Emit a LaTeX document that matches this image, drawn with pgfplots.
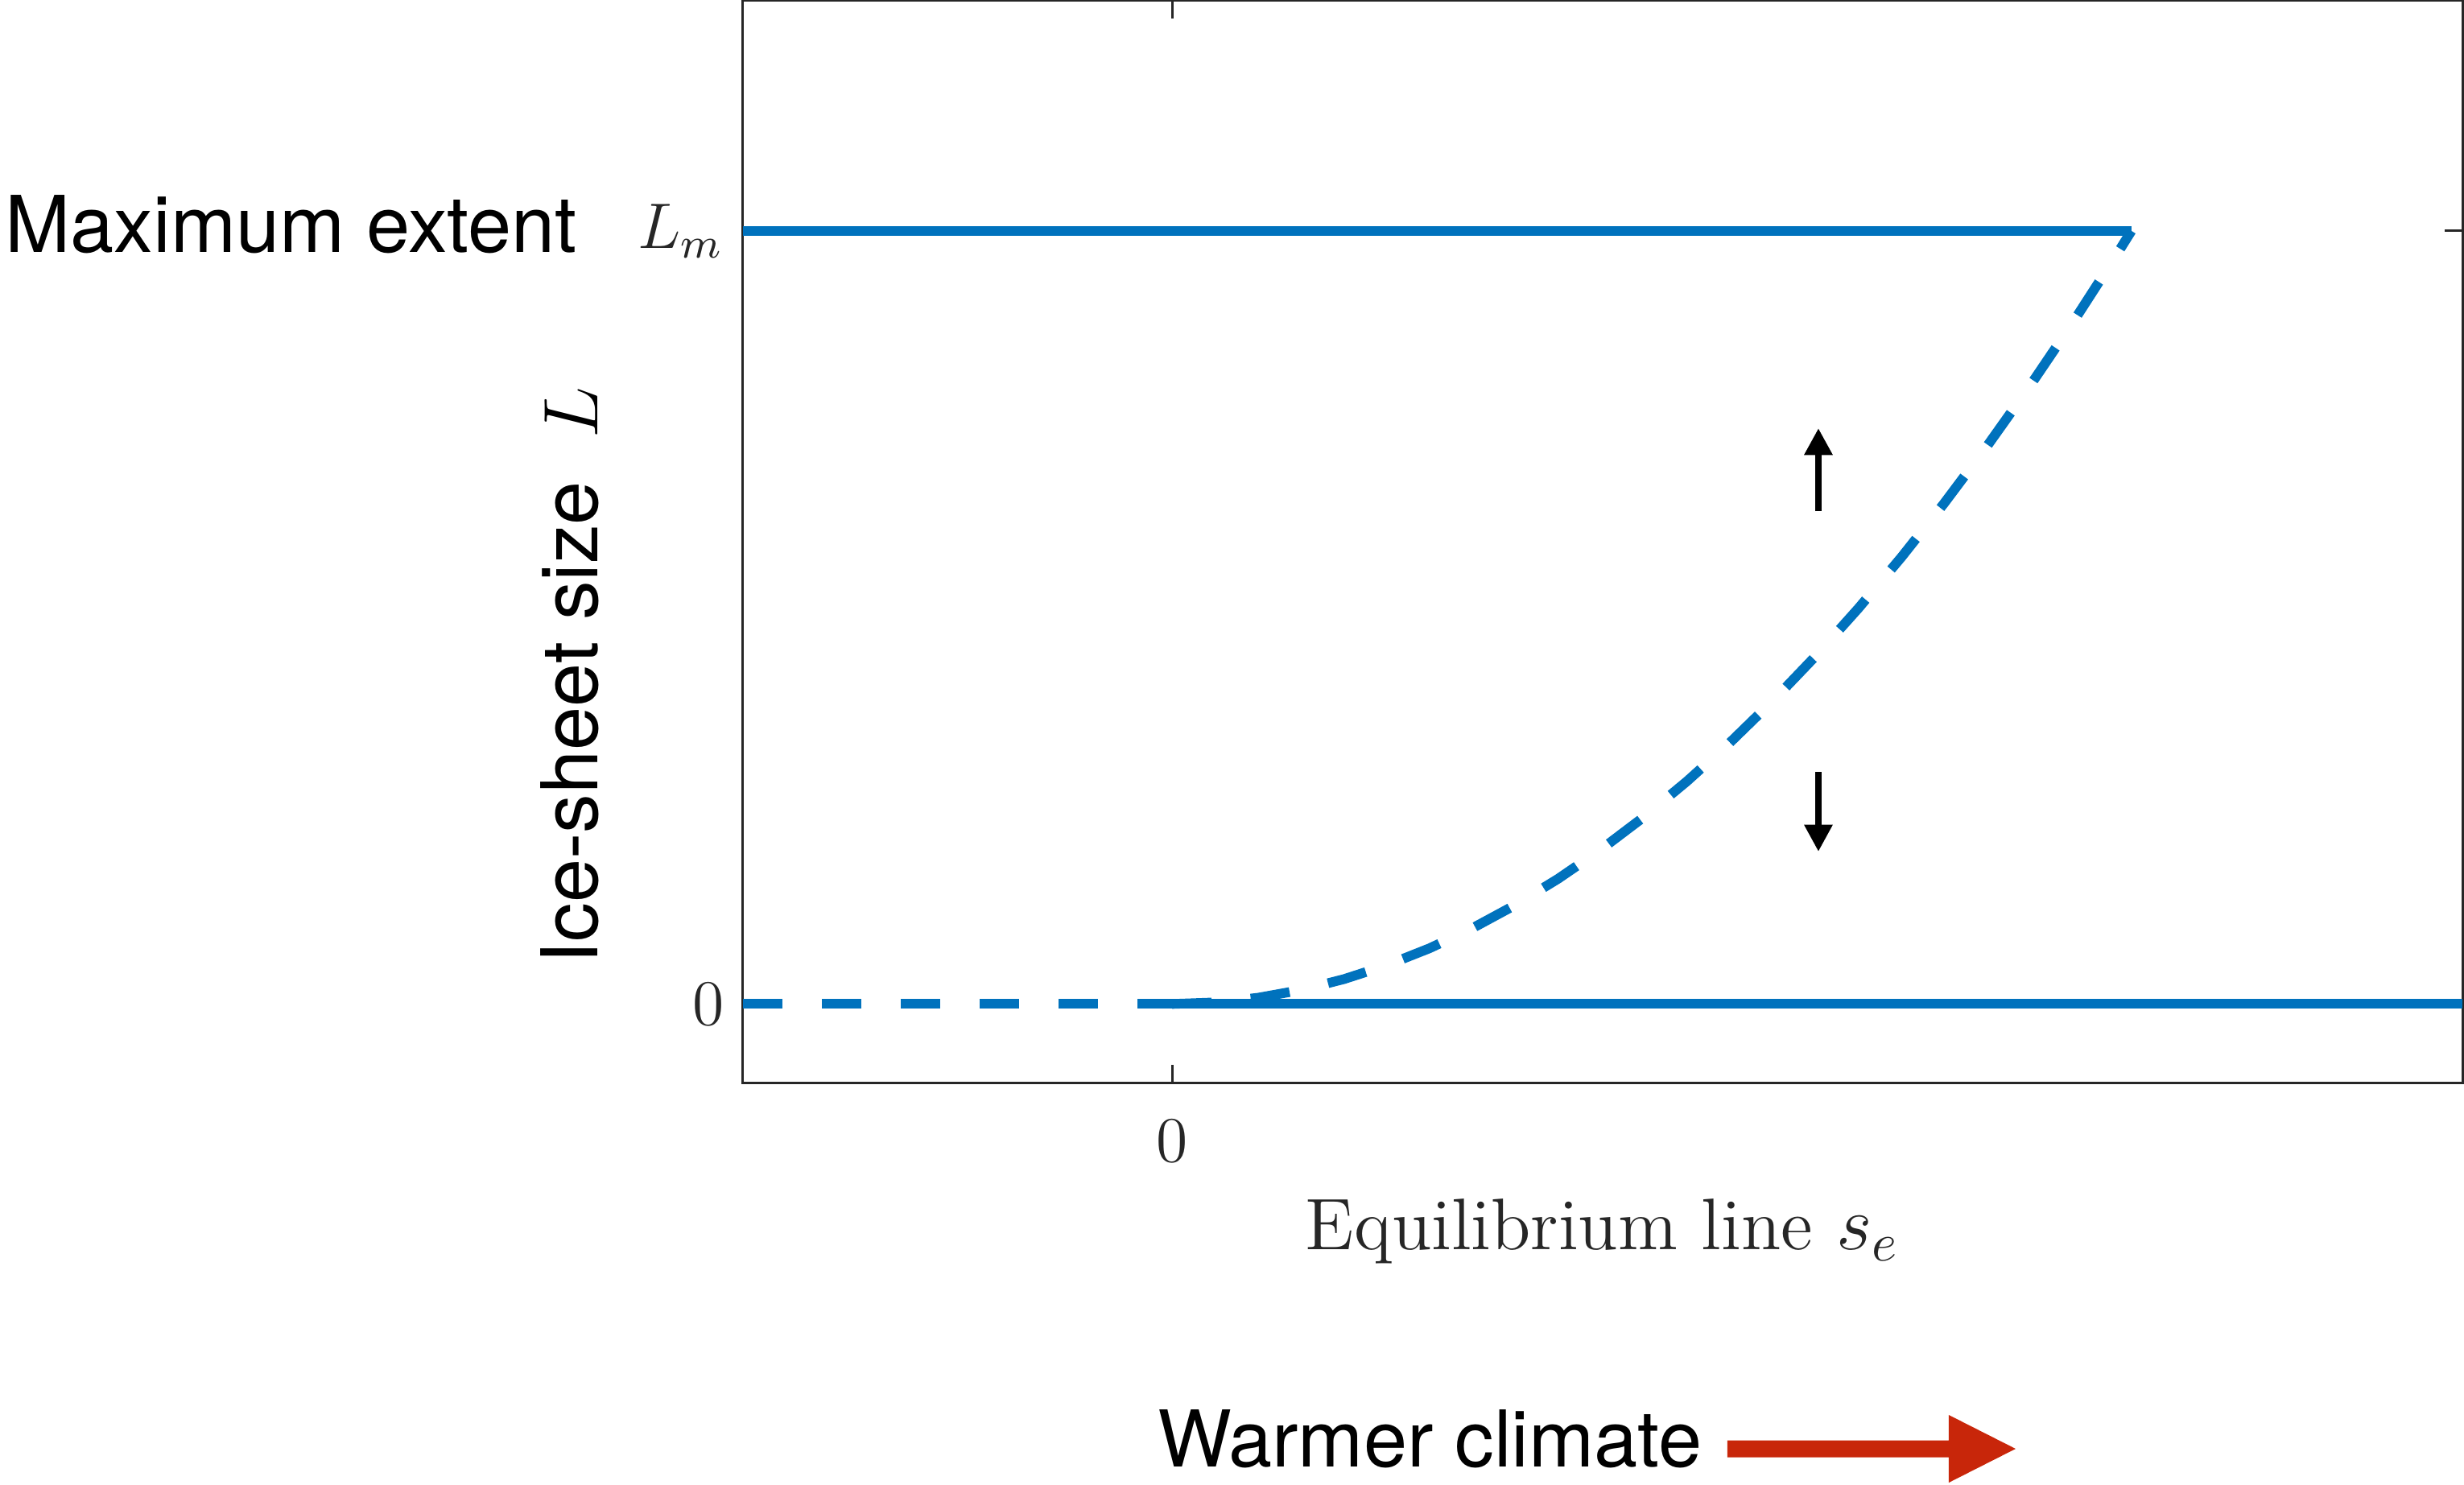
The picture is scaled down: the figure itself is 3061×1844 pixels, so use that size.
\documentclass[border=0pt]{standalone}
\usepackage{fontspec}
\setsansfont{TeX Gyre Heros}
\usepackage{pgfplots}
\pgfplotsset{compat=1.18}
\usetikzlibrary{arrows.meta}
\definecolor{mblue}{RGB}{0,114,189}
\definecolor{mred}{RGB}{200,38,10}
\definecolor{axgray}{RGB}{38,38,38}
\newcommand{\sans}{\sffamily\fontsize{14.6}{17}\selectfont}
\begin{document}
\begin{tikzpicture}
\begin{axis}[name=ax, scale only axis, width=320.4pt, height=201.6pt,
  xmin=-1, xmax=3.0075, ymin=-0.1017, ymax=1.2977,
  xtick={0}, xticklabels={$0$}, ytick={0,1}, yticklabels={$0$,$L_m$},
  tick align=inside, major tick length=3.3pt,
  every tick/.style={axgray, line width=0.45pt},
  axis line style={axgray, line width=0.45pt},
  tick label style={font=\fontsize{12}{14}\selectfont, text=axgray},
  xticklabel style={yshift=-3.5pt},
  xlabel={$\mathrm{Equilibrium\ line}\ s_e$},
  xlabel style={at={(axis description cs:0.5,-0.154)}, anchor=base, font=\fontsize{13.6}{16}\selectfont, text=axgray},
  ylabel={{\sans Ice-sheet size}\hspace{8pt}$L$},
  ylabel style={at={(axis description cs:-0.0847,0.3765)}, anchor=base, font=\fontsize{13.5}{16}\selectfont},
]
\addplot[mblue, line width=1.8pt] coordinates {(-1,1) (2.2361,1)};
\addplot[mblue, line width=1.8pt] coordinates {(0,0) (3.0075,0)};
\addplot[mblue, line width=1.8pt, dash pattern=on 7.35pt off 7.35pt] coordinates {(-1,0) (0,0)};
\addplot[mblue, line width=1.8pt, dash pattern=on 7.35pt off 7.35pt] coordinates {
 (0,0) (0.1,0.002) (0.2,0.008) (0.3,0.018) (0.4,0.032) (0.5,0.05) (0.6,0.072)
 (0.7,0.098) (0.8,0.128) (0.9,0.162) (1.0,0.2) (1.1,0.242) (1.2,0.288) (1.3,0.338)
 (1.4,0.392) (1.5,0.45) (1.6,0.512) (1.7,0.578) (1.8,0.648) (1.9,0.722) (2.0,0.8)
 (2.1,0.882) (2.2,0.968) (2.2361,1.0)};
\end{axis}
\begin{scope}[shift={(ax.south west)}, x=0.15pt, y=-0.15pt, shift={(-923,-1345)}]
\fill[mred] (2146,1789.5) -- (2421,1789.5) -- (2421,1758) -- (2504,1800) -- (2421,1842) -- (2421,1810.5) -- (2146,1810.5) -- cycle;
\node[anchor=base west, inner sep=0, font=\sans] at (1437,1822) {Warmer climate};
\node[anchor=base east, inner sep=0, font=\sans] at (718,313) {Maximum extent};
\draw[line width=1.3pt, -{Triangle[length=5pt,width=5pt]}] (2259,635) -- (2259,532);
\draw[line width=1.2pt, -{Triangle[length=5pt,width=5pt]}] (2259,959) -- (2259,1058);
\pgfresetboundingbox
\path[use as bounding box] (0,0) rectangle (3061,1844);
\end{scope}
\end{tikzpicture}
\end{document}
